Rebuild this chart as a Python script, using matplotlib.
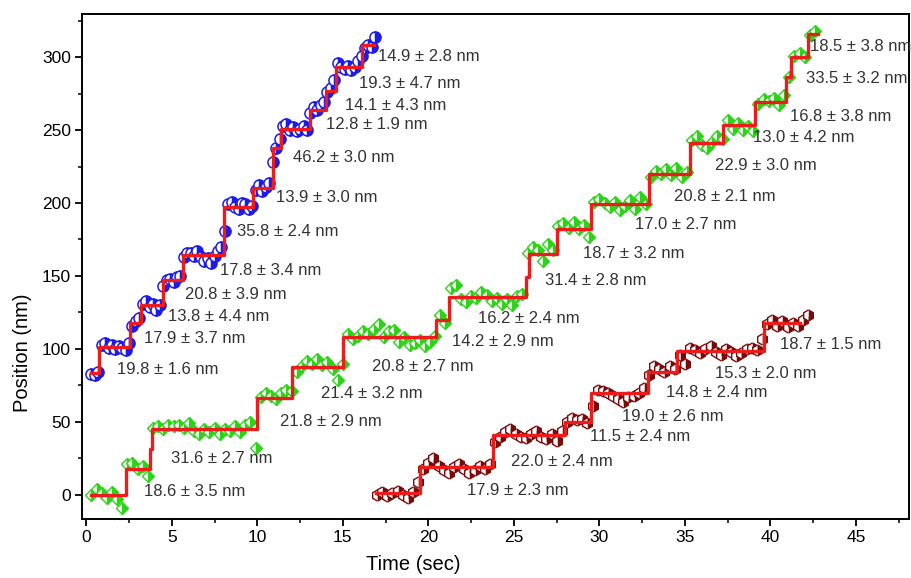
import matplotlib
matplotlib.use("Agg")
import matplotlib.pyplot as plt

plt.rcParams['font.family'] = ['Liberation Sans', 'DejaVu Sans']

# ---- trace 1 (blue circles) ----
blue_t = [0.3, 0.5, 0.7,
          0.9, 1.1, 1.3, 1.5, 1.7, 1.9, 2.1, 2.3, 2.5,
          2.7, 2.9, 3.1,
          3.3, 3.5, 3.7, 3.9, 4.1, 4.3, 4.5,
          4.7, 4.9, 5.1, 5.3, 5.5,
          5.7, 5.9, 6.1, 6.3, 6.5, 6.7, 6.9, 7.1, 7.3, 7.5, 7.7, 7.9,
          8.1,
          8.3, 8.5, 8.7, 8.9, 9.1, 9.3, 9.5, 9.7,
          9.9, 10.1, 10.3, 10.5, 10.7,
          10.9, 11.1, 11.3,
          11.5, 11.7, 11.9, 12.1, 12.3, 12.5, 12.7, 12.9,
          13.1, 13.3, 13.5, 13.7, 13.9,
          14.1, 14.3, 14.5,
          14.7, 14.9, 15.1, 15.3, 15.5, 15.7, 15.9,
          16.1, 16.3, 16.5, 16.7, 16.9]
blue_y = [83, 82, 84,
          103, 104, 101, 103, 100, 102, 101, 99, 104,
          116, 119, 121,
          131, 133, 129, 131, 127, 130, 143,
          147, 148, 146, 149, 150,
          163, 166, 166, 164, 167, 163, 160, 162, 159, 164, 167, 170,
          181,
          199, 201, 197, 196, 200, 199, 196, 198,
          209, 212, 208, 211, 214,
          228, 238, 244,
          253, 254, 250, 252, 249, 251, 253, 250,
          262, 266, 264, 267, 269,
          276, 279, 284,
          296, 293, 292, 294, 291, 293, 297,
          301, 306, 308, 307, 314]
blue_fit_t = [0.25, 0.76, 2.53, 3.22, 4.48, 5.65, 8.05, 9.77, 10.9, 11.4,
              13.1, 14.0, 14.6, 16.1, 16.8]
blue_fit_y = [83.4, 101.6, 117.6, 130, 147.3, 164.4, 197.5, 210, 237.4, 251,
              263.7, 277, 293.4, 308, 308]
blue_labels = ["19.8 ± 1.6 nm", "17.9 ± 3.7 nm", "13.8 ± 4.4 nm", "20.8 ± 3.9 nm",
               "17.8 ± 3.4 nm", "35.8 ± 2.4 nm", "13.9 ± 3.0 nm", "46.2 ± 3.0 nm",
               "12.8 ± 1.9 nm", "14.1 ± 4.3 nm", "19.3 ± 4.7 nm", "14.9 ± 2.8 nm"]
blue_label_xy = [(1.80, 85.6), (3.35, 107.3), (4.75, 122.1), (5.79, 137.5),
                 (7.80, 153.6), (8.81, 180.3), (11.11, 203.9), (12.09, 231.3),
                 (14.04, 254.1), (15.15, 267.1), (15.92, 282.0), (17.06, 300.2)]

# ---- trace 2 (green diamonds) ----
green_t = [0.3, 0.6, 0.9, 1.2, 1.5, 1.8, 2.1,
           2.4, 2.7, 3.0, 3.3, 3.6,
           3.9, 4.2, 4.5, 4.8, 5.1, 5.4, 5.7, 6.0, 6.3, 6.6, 6.9, 7.2, 7.5, 7.8,
           8.1, 8.4, 8.7, 9.0, 9.3, 9.6, 9.9,
           10.2, 10.5, 10.8, 11.1, 11.4, 11.7,
           12.0,
           12.3, 12.6, 12.9, 13.2, 13.5, 13.8, 14.1, 14.4, 14.7, 15.0,
           15.3, 15.6, 15.9, 16.2, 16.5, 16.8, 17.1, 17.4, 17.7, 18.0, 18.3, 18.6,
           18.9, 19.2, 19.5, 19.8, 20.1, 20.4,
           20.7, 21.0,
           21.3, 21.6, 21.9, 22.2, 22.5, 22.8, 23.1, 23.4, 23.7, 24.0, 24.3, 24.6,
           24.9, 25.2, 25.5,
           25.8, 26.1, 26.4, 26.7, 27.0, 27.3,
           27.6, 27.9, 28.2, 28.5, 28.8, 29.1, 29.4,
           29.7, 30.0, 30.3, 30.6, 30.9, 31.2, 31.5, 31.8, 32.1, 32.4, 32.7,
           33.0, 33.3, 33.6, 33.9, 34.2, 34.5, 34.8, 35.1,
           35.4, 35.7, 36.0, 36.3, 36.6, 36.9, 37.2,
           37.5, 37.8, 38.1, 38.4, 38.7, 39.0,
           39.3, 39.6, 39.9, 40.2, 40.5, 40.8,
           41.1,
           41.4, 41.7, 42.0,
           42.3, 42.6]
green_y = [0, 4, 1, -2, 2, -3, -9,
           21, 22, 18, 20, 13,
           46, 47, 45, 48, 47, 48, 46, 49, 44, 42, 45, 43, 46, 42,
           45, 44, 47, 43, 48, 50, 32,
           67, 70, 68, 66, 70, 72,
           71,
           84, 88, 92, 90, 93, 89, 91, 86, 79, 90,
           110, 107, 109, 112, 110, 114, 117, 108, 112, 113, 105, 108,
           103, 104, 106, 102, 105, 109,
           123, 118,
           142, 144, 134, 132, 136, 135, 139, 137, 133, 135, 131, 134,
           130, 136, 138,
           166, 170, 168, 160, 172, 168,
           184, 186, 183, 187, 182, 185, 177,
           201, 203, 200, 197, 201, 195, 198, 202, 196, 204, 199,
           218, 222, 220, 223, 219, 224, 218, 221,
           243, 246, 240, 238, 242, 246, 244,
           257, 251, 255, 250, 253, 249,
           268, 271, 270, 272, 267, 274,
           286,
           301, 303, 300,
           315, 318]
green_fit_t = [0.3, 2.34, 3.7, 3.82, 9.98, 12.03, 15.03, 20.45, 21.2, 25.7, 25.9,
               27.5, 29.5, 32.9, 35.3, 37.2, 39.1, 40.9, 41.2, 42.2, 42.8]
green_fit_y = [0, 17.6, 31.5, 45, 66.7, 87.9, 108.2, 120, 135.8, 149.5, 165,
               182.5, 199, 219.6, 241.3, 253.4, 269.4, 286, 299.8, 316, 316]
green_labels = ["18.6 ± 3.5 nm", "31.6 ± 2.7 nm", "21.8 ± 2.9 nm", "21.4 ± 3.2 nm",
                "20.8 ± 2.7 nm", "14.2 ± 2.9 nm", "16.2 ± 2.4 nm", "31.4 ± 2.8 nm",
                "18.7 ± 3.2 nm", "17.0 ± 2.7 nm", "20.8 ± 2.1 nm", "22.9 ± 3.0 nm",
                "13.0 ± 4.2 nm", "16.8 ± 3.8 nm", "33.5 ± 3.2 nm", "18.5 ± 3.8 nm"]
green_label_xy = [(3.35, 2.3), (4.95, 25.1), (11.30, 50.2), (13.73, 69.5),
                  (16.68, 87.9), (21.40, 105.3), (22.89, 121.0), (26.84, 146.8),
                  (29.05, 165.5), (32.11, 185.6), (34.35, 204.8), (36.78, 226.0),
                  (38.99, 245.0), (41.13, 259.1), (42.05, 285.4), (42.30, 307.5)]

# ---- trace 3 (dark red hexagons) ----
red_t = [17.0, 17.3, 17.6, 17.9, 18.2, 18.5, 18.8, 19.1, 19.4,
         19.7, 20.0, 20.3, 20.6, 20.9, 21.2, 21.5, 21.8, 22.1, 22.4, 22.7, 23.0, 23.3, 23.6,
         23.9, 24.2, 24.5, 24.8, 25.1, 25.4, 25.7, 26.0, 26.3, 26.6, 26.9, 27.2, 27.5, 27.8,
         28.1, 28.4, 28.7, 29.0, 29.3,
         29.6,
         29.9, 30.2, 30.5, 30.8, 31.1, 31.4, 31.7, 32.0, 32.3, 32.6,
         32.9, 33.2, 33.5, 33.8, 34.1, 34.4,
         34.7, 35.0,
         35.3, 35.6, 35.9, 36.2, 36.5, 36.8, 37.1, 37.4, 37.7, 38.0, 38.3, 38.6, 38.9, 39.2,
         39.5,
         39.8, 40.1, 40.4, 40.7, 41.0, 41.3, 41.6, 41.9, 42.2]
red_y = [0, 2, -1, 1, 3, 0, -2, 2, 9,
         18, 22, 25, 20, 17, 15, 19, 21, 18, 15, 17, 20, 18, 21,
         36, 40, 43, 45, 42, 40, 39, 42, 44, 40, 38, 42, 37, 44,
         50, 53, 51, 52, 49,
         61,
         72, 71, 70, 68, 66, 64, 67, 68, 70, 73,
         82, 88, 86, 84, 88, 86,
         96, 90,
         101, 99, 97, 100, 102, 98, 96, 100, 98, 95, 97, 100, 101, 99,
         107,
         117, 120, 116, 119, 115, 118, 116, 120, 123]
red_fit_t = [16.95, 19.5, 23.8, 28.0, 29.5, 32.85, 34.55, 39.6, 41.7]
red_fit_y = [1, 19.4, 41.1, 50.2, 69.6, 84.5, 98.9, 118, 118]
red_labels = ["17.9 ± 2.3 nm", "22.0 ± 2.4 nm", "11.5 ± 2.4 nm", "19.0 ± 2.6 nm",
              "14.8 ± 2.4 nm", "15.3 ± 2.0 nm", "18.7 ± 1.5 nm"]
red_label_xy = [(22.28, 2.9), (24.85, 22.8), (29.46, 39.9), (31.31, 53.6),
                (33.89, 70.1), (36.78, 83.1), (40.54, 103.2)]

fig = plt.figure(figsize=(9.12, 5.78), dpi=100)
ax = fig.add_axes([82 / 912, 1 - 519 / 578, 827 / 912, 505 / 578])

ax.plot(blue_t, blue_y, 'o', ls='none', ms=8, mew=1.1, fillstyle='right',
        color='#1c1ce6', markerfacecoloralt='white', zorder=2)
ax.plot(green_t, green_y, 'D', ls='none', ms=6.5, mew=1.0, fillstyle='right',
        color='#2fd21a', markerfacecoloralt='white', zorder=2)
ax.plot(red_t, red_y, 'h', ls='none', ms=8, mew=1.0, fillstyle='right',
        color='#7a0a0a', markerfacecoloralt='white', zorder=2)

fit_color = '#ec1c1c'
ax.step(blue_fit_t, blue_fit_y, where='post', color=fit_color, lw=2.4, zorder=3)
ax.step(green_fit_t, green_fit_y, where='post', color=fit_color, lw=2.4, zorder=3)
ax.step(red_fit_t, red_fit_y, where='post', color=fit_color, lw=2.4, zorder=3)

for labels, xy in [(blue_labels, blue_label_xy), (green_labels, green_label_xy),
                   (red_labels, red_label_xy)]:
    for s, (x, y) in zip(labels, xy):
        ax.text(x, y, s, fontsize=12, color='#333333', ha='left', va='center', zorder=4)

ax.set_xlim(-0.25, 48.1)
ax.set_ylim(-16.5, 329.5)
ax.set_xticks(range(0, 50, 5))
ax.set_xticks([2.5 + 5 * i for i in range(10)], minor=True)
ax.set_yticks(range(0, 301, 50))
ax.set_yticks([25 + 50 * i for i in range(7)], minor=True)
ax.tick_params(which='major', direction='out', length=5, width=1.3, labelsize=12.5,
               pad=3, top=False, right=False)
ax.tick_params(which='minor', direction='out', length=3, width=1.1, top=False, right=False)
for sp in ax.spines.values():
    sp.set_linewidth(1.4)

ax.set_xlabel('Time (sec)', fontsize=14.5)
ax.set_ylabel('Position (nm)', fontsize=14.5)
ax.xaxis.set_label_coords(0.40, -0.072)
ax.yaxis.set_label_coords(-0.06, 0.33)

fig.savefig('out.png', dpi=100)
